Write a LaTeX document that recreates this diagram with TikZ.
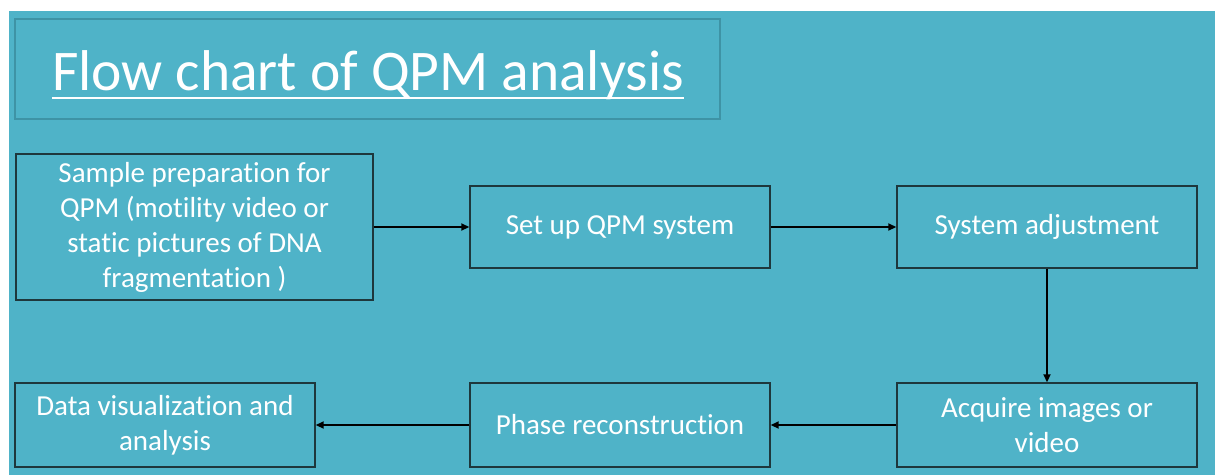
\documentclass[tikz,border=0pt]{standalone}
\usepackage{fontspec}
\setmainfont[Ligatures=NoCommon]{Carlito}
\usetikzlibrary{arrows.meta}
\definecolor{bgteal}{RGB}{79,179,200}
\definecolor{titleedge}{RGB}{62,147,165}
\definecolor{boxedge}{RGB}{30,55,60}
\tikzset{
  stepbox/.style={draw=boxedge, line width=1.4pt, fill=bgteal, text=white, align=center,
    inner sep=0pt, font=\fontsize{29}{35}\selectfont},
  flowarrow/.style={draw=black, line width=1.8pt, -{Triangle[length=8pt,width=7pt]}}
}
\begin{document}
\begin{tikzpicture}[x=1pt,y=-1pt]
\useasboundingbox (0,0) rectangle (1215,475);
\fill[white] (0,0) rectangle (1215,475);
\fill[bgteal] (9,11) rectangle (1215,475);
\node[draw=titleedge, line width=1.4pt, minimum width=705pt, minimum height=100pt, inner sep=0pt] (tbox) at (367.5,69) {};
\node[text=white, inner sep=0pt, font=\fontsize{57.5}{65}\selectfont, anchor=base] (ttl) at (368,90) {Flow chart of QPM analysis};
\draw[white, line width=2.5pt] ([yshift=-8pt]ttl.base west) -- ([yshift=-8pt]ttl.base east);

\node[stepbox, minimum width=357pt, minimum height=146pt] (s1) at (194.5,227) {Sample preparation for\\QPM (motility video or\\static pictures of DNA\\fragmentation )};
\node[stepbox, minimum width=300pt, minimum height=82pt] (s2) at (620,227) {Set up QPM system};
\node[stepbox, minimum width=300pt, minimum height=82pt] (s3) at (1047,227) {System adjustment};
\node[stepbox, minimum width=300pt, minimum height=84pt] (s4) at (1047,425) {Acquire images or\\video};
\node[stepbox, minimum width=300pt, minimum height=84pt] (s5) at (620,425) {Phase reconstruction};
\node[stepbox, minimum width=300pt, minimum height=84pt] (s6) at (165,425) {Data visualization and\\analysis};

\draw[flowarrow] (s1.east) -- (s2.west);
\draw[flowarrow] (s2.east) -- (s3.west);
\draw[flowarrow] (s3.south) -- (s4.north);
\draw[flowarrow] (s4.west) -- (s5.east);
\draw[flowarrow] (s5.west) -- (s6.east);
\end{tikzpicture}
\end{document}
